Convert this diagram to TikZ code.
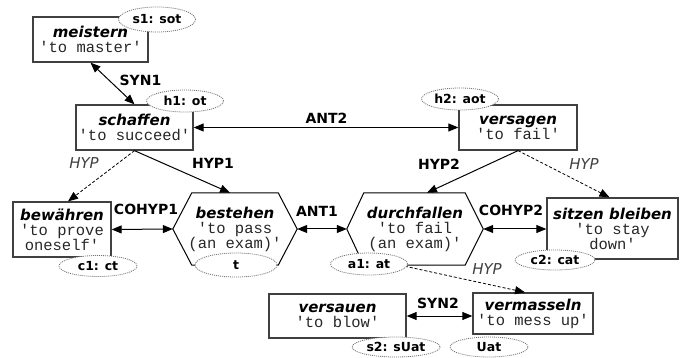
\documentclass[tikz,border=0pt]{standalone}
\usepackage{fontspec}
\setmainfont{DejaVu Sans}
\setmonofont{Liberation Mono}
\usetikzlibrary{arrows.meta,shapes.geometric}
\newcommand{\wrd}[1]{{\bfseries\itshape #1}}
\newcommand{\gls}[1]{{\ttfamily\fontsize{15.5}{15}\selectfont\color{black!85}#1}}
\tikzset{
  wbox/.style={draw=black!75, line width=1.3pt, inner sep=0pt, align=center,
    font=\fontsize{15}{15}\selectfont},
  hexn/.style={inner sep=0pt, align=center, font=\fontsize{15}{15}\selectfont},
  hexline/.style={draw=black, line width=1pt},
  tip/.style={-{Triangle[length=10pt,width=8pt]}, line width=1pt},
  both/.style={{Triangle[length=10pt,width=8pt]}-{Triangle[length=10pt,width=8pt]}, line width=1pt},
  dtip/.style={-{Triangle[length=10pt,width=8pt]}, line width=0.8pt, dash pattern=on 3pt off 2pt},
  rel/.style={font=\fontsize{14}{14}\selectfont\bfseries, inner sep=0pt},
  hyp/.style={font=\fontsize{15}{15}\selectfont\itshape, text=black!75, inner sep=0pt},
  tag/.style={ellipse, draw=black!55, line width=0.8pt, dash pattern=on 1pt off 1pt,
    fill=white, inner sep=0pt, font=\fontsize{12.5}{12.5}\selectfont\bfseries}
}
\begin{document}
\begin{tikzpicture}[x=1pt,y=-1pt]
\useasboundingbox (0,0) rectangle (683,358);
% boxes
\node[wbox, minimum width=115pt, minimum height=45pt] (meis) at (90.5,39.5)
  {\wrd{meistern}\\\gls{'to master'}};
\node[wbox, minimum width=117pt, minimum height=45pt] (scha) at (134.5,127.5)
  {\wrd{schaffen}\\\gls{'to succeed'}};
\node[wbox, minimum width=118pt, minimum height=45pt] (vers) at (518,127.5)
  {\wrd{versagen}\\\gls{'to fail'}};
\node[wbox, minimum width=98pt, minimum height=55pt] (bewa) at (62,229.5)
  {\wrd{bewähren}\\\gls{'to prove}\\\gls{oneself'}};
\node[hexn, minimum width=124pt, minimum height=72pt] (best) at (235,229)
  {\wrd{bestehen}\\\gls{'to pass}\\\gls{(an exam)'}};
\node[hexn, minimum width=136pt, minimum height=72pt] (durc) at (415,229)
  {\wrd{durchfallen}\\\gls{'to fail}\\\gls{(an exam)'}};
\node[wbox, minimum width=131pt, minimum height=61pt] (sitz) at (612.5,228.5)
  {\wrd{sitzen bleiben}\\\gls{'to stay}\\\gls{down'}};
\node[wbox, minimum width=137pt, minimum height=44pt] (vsau) at (337.5,316)
  {\wrd{versauen}\\\gls{'to blow'}};
\node[wbox, minimum width=120pt, minimum height=41pt] (verm) at (533,313.5)
  {\wrd{vermasseln}\\\gls{'to mess up'}};
% hexagons
\draw[hexline] (best.west) -- ([xshift=19pt]best.north west) -- ([xshift=-19pt]best.north east)
  -- (best.east) -- ([xshift=-19pt]best.south east) -- ([xshift=19pt]best.south west) -- cycle;
\draw[hexline] (durc.west) -- ([xshift=17pt]durc.north west) -- ([xshift=-18pt]durc.north east)
  -- (durc.east) -- ([xshift=-18pt]durc.south east) -- ([xshift=17pt]durc.south west) -- cycle;
% connectors
\draw[both] (meis.south) -- (scha.north);
\draw[both] (scha.east) -- (vers.west);
\draw[dtip] (scha.south) -- ([xshift=6pt]bewa.north);
\draw[tip] (scha.south) -- ([xshift=-5pt]best.north);
\draw[tip] (vers.south) -- ([xshift=12pt]durc.north);
\draw[dtip] (vers.south) -- ([xshift=-3pt]sitz.north);
\draw[both] (bewa.east) -- (best.west);
\draw[both] (best.east) -- (durc.west);
\draw[both] (durc.east) -- (durc.east -| sitz.west);
\draw[both] (vsau.east) -- (vsau.east -| verm.west);
\draw[dtip] ([xshift=-15pt]durc.south) -- ([xshift=-8pt]verm.north);
% relation labels
\node[rel] (lsyn1) at (140.5,80.5) {SYN1};
\node[rel] (lant2) at (326.5,118) {ANT2};
\node[hyp] (lhypa) at (84,163) {HYP};
\node[rel] (lhyp1) at (213,163) {HYP1};
\node[rel] (lhyp2) at (439,164) {HYP2};
\node[hyp] (lhypb) at (584,164) {HYP};
\node[rel] (lcoh1) at (146,209) {COHYP1};
\node[rel] (lant1) at (317,211) {ANT1};
\node[rel] (lcoh2) at (511,210) {COHYP2};
\node[hyp] (lhypc) at (487,269) {HYP};
\node[rel] (lsyn2) at (438,303) {SYN2};
% tags
\node[tag, minimum width=77pt, minimum height=25pt] (ts1) at (157,19.5) {s1: sot};
\node[tag, minimum width=77pt, minimum height=22pt] (th1) at (185,101) {h1: ot};
\node[tag, minimum width=77pt, minimum height=22pt] (th2) at (460,99) {h2: aot};
\node[tag, minimum width=78pt, minimum height=21pt] (tc1) at (98,266) {c1: ct};
\node[tag, minimum width=82pt, minimum height=24pt] (tt) at (236,265) {t};
\node[tag, minimum width=77pt, minimum height=22pt] (ta1) at (369,264) {a1: at};
\node[tag, minimum width=80pt, minimum height=20pt] (tc2) at (555,260) {c2: cat};
\node[tag, minimum width=88pt, minimum height=20pt] (ts2) at (396,347) {s2: sUat};
\node[tag, minimum width=78pt, minimum height=20pt] (tua) at (489,347) {Uat};
\end{tikzpicture}
\end{document}
